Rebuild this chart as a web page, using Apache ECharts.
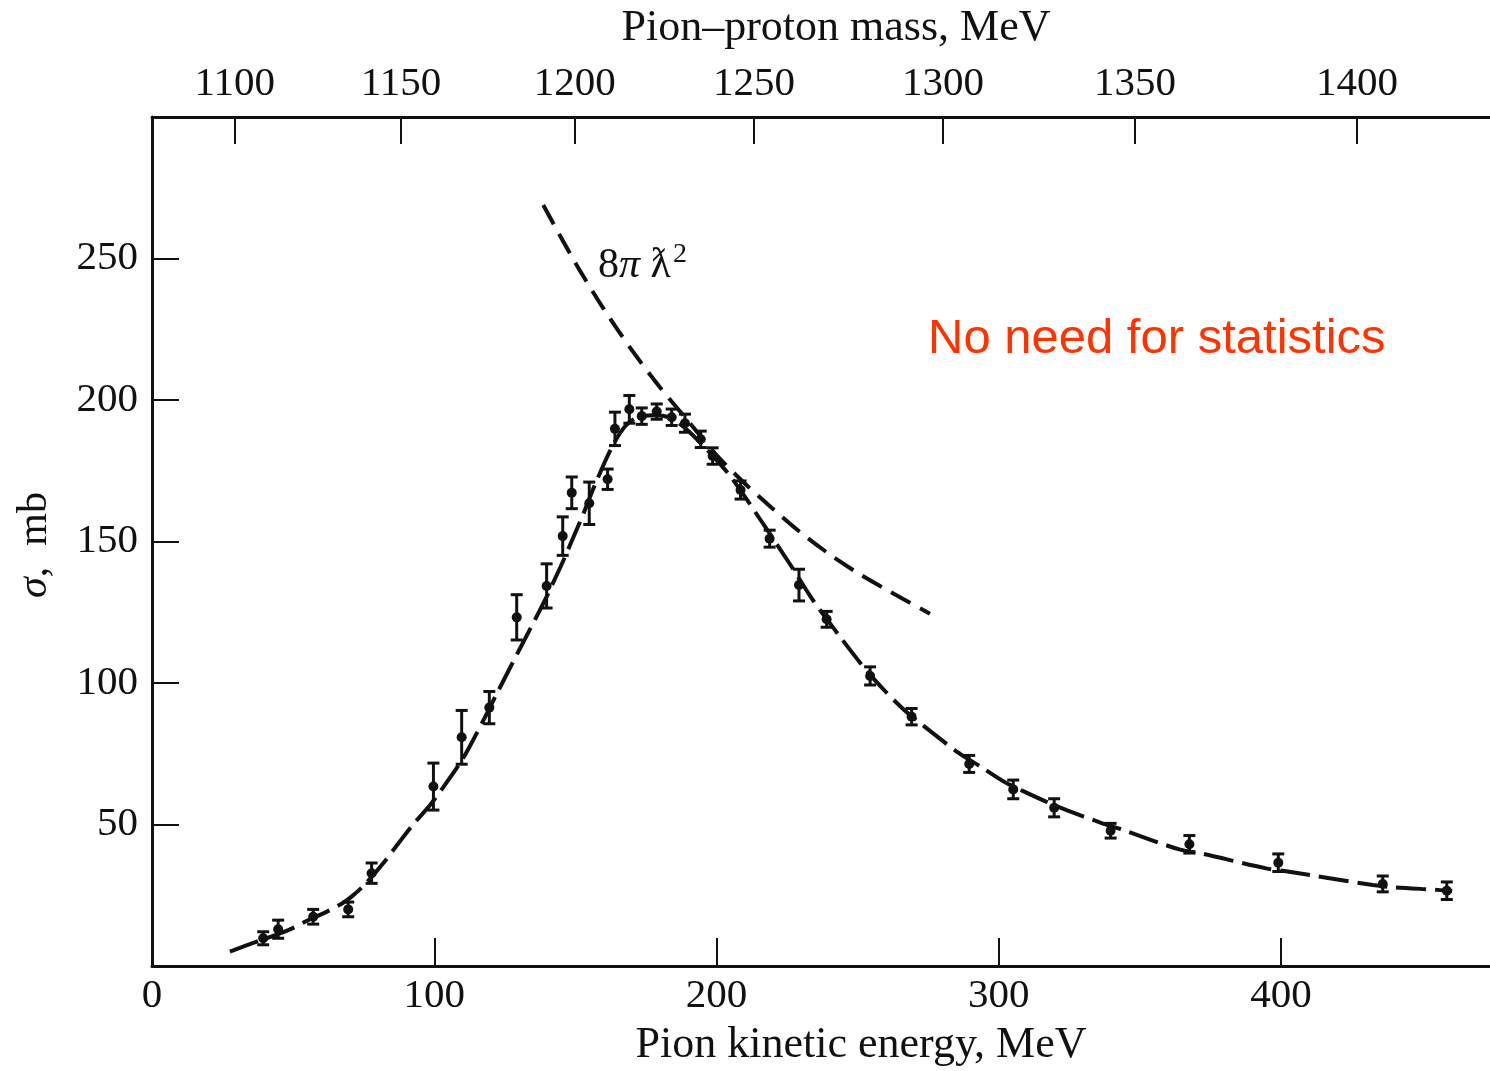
<!DOCTYPE html>
<html>
<head>
<meta charset="utf-8">
<script src="https://cdn.jsdelivr.net/npm/echarts@6/dist/echarts.min.js"></script>
<style>
html,body{margin:0;padding:0;background:#fff;}
#chart{width:1490px;height:1071px;}
</style>
</head>
<body>
<div id="chart"></div>
<script>
// Measured cross-section points (pion kinetic energy in MeV, sigma in mb, error in mb)
const energy = [39.4, 44.7, 57.1, 69.5, 77.8, 99.7, 109.7, 119.5, 129.2, 139.8, 145.5, 148.7, 154.9, 161.4, 164.0, 169.1, 173.5, 178.8, 184.1, 188.8, 194.4, 198.6, 208.5, 218.8, 229.2, 239.0, 254.4, 269.1, 289.5, 305.1, 319.6, 339.6, 367.5, 399.0, 436.0, 458.7];
const sigma = [9.8, 13.0, 17.4, 20.0, 32.8, 63.4, 80.8, 91.3, 123.2, 134.3, 151.9, 167.2, 163.5, 172.0, 189.8, 196.7, 194.3, 195.9, 193.9, 191.8, 186.1, 180.2, 168.2, 151.0, 134.6, 122.5, 102.5, 88.1, 71.4, 62.4, 55.9, 47.8, 43.0, 36.5, 29.0, 26.6];
const sigmaErr = [2.3, 3.2, 2.6, 2.6, 3.6, 8.3, 9.5, 5.7, 8.0, 7.8, 6.8, 5.6, 7.5, 3.6, 5.9, 4.9, 2.9, 2.7, 2.9, 3.2, 2.9, 2.9, 3.2, 3.0, 5.6, 2.8, 3.2, 2.9, 3.0, 3.3, 3.2, 2.6, 3.1, 3.1, 2.8, 3.1];

// Resonance fit curve
const fitEnergy = [27.6, 37.1, 48.3, 56.0, 60.7, 67.2, 70.8, 75.5, 81.9, 91.5, 98.6, 102.7, 109.2, 112.5, 117.5, 122.8, 130.0, 138.8, 144.7, 148.2, 152.9, 157.1, 163.0, 167.7, 172.0, 178.0, 184.0, 189.6, 197.0, 205.0, 215.6, 226.2, 234.0, 242.8, 251.0, 258.2, 265.8, 272.9, 285.9, 293.6, 301.9, 309.0, 316.7, 324.0, 336.2, 343.3, 363.9, 371.6, 394.7, 402.9, 432.5, 440.1, 455.5, 460.6];
const fitSigma = [5.1, 8.6, 12.7, 16.5, 18.6, 22.0, 24.6, 28.9, 36.3, 48.8, 57.0, 62.5, 71.8, 77.5, 87.0, 97.5, 111.5, 128.5, 141.0, 149.0, 160.0, 170.5, 183.5, 190.8, 193.8, 194.6, 193.5, 189.4, 182.0, 172.9, 157.6, 141.7, 129.5, 117.6, 107.0, 98.7, 91.1, 85.2, 75.2, 70.4, 65.1, 61.6, 58.1, 55.1, 50.6, 48.3, 41.2, 39.8, 34.5, 33.3, 28.6, 27.8, 26.9, 26.5];

// Unitarity limit 8πƛ² curve
const limitEnergy = [138.6, 150.0, 160.0, 170.0, 180.0, 190.0, 200.0, 210.0, 220.0, 230.0, 240.0, 250.0, 260.0, 275.6];
const limitSigma = [268.9, 248.4, 232.2, 217.6, 204.4, 192.5, 180.5, 170.5, 161.5, 153.0, 145.5, 138.9, 133.1, 124.5];

// Axis ticks
const energyTicks = [100, 200, 300, 400];
const energyLabels = [0, 100, 200, 300, 400];
const sigmaTicks = [50, 100, 150, 200, 250];
const massTickEnergy = [29.3, 88.2, 149.8, 213.3, 280.2, 348.2, 426.9];
const massTickLabels = ['1100', '1150', '1200', '1250', '1300', '1350', '1400'];

const INK = '#111';
const SERIF = '"Liberation Serif", "DejaVu Serif", serif';

const chart = echarts.init(document.getElementById('chart'), null, {renderer: 'canvas'});

const pointData = energy.map((e, i) => [e, sigma[i], sigmaErr[i]]);
const fitData = fitEnergy.map((e, i) => [e, fitSigma[i]]);
const limitData = limitEnergy.map((e, i) => [e, limitSigma[i]]);

function massLabel(v) {
  let best = 0, bd = Infinity;
  massTickEnergy.forEach((t, i) => { const d = Math.abs(t - v); if (d < bd) { bd = d; best = i; } });
  return massTickLabels[best];
}

const axisLabelStyle = {color: INK, fontFamily: SERIF, fontSize: 41};

const option = {
  animation: false,
  backgroundColor: '#fff',
  grid: {left: 152, top: 117, right: 0, bottom: 105, containLabel: false},
  xAxis: [
    {
      type: 'value', position: 'bottom', min: 0, max: 474,
      axisLine: {show: true, onZero: false, lineStyle: {color: INK, width: 3}},
      axisTick: {show: true, inside: true, length: 28, customValues: energyTicks, lineStyle: {color: INK, width: 2}},
      axisLabel: Object.assign({customValues: energyLabels, margin: 10, showMinLabel: true}, axisLabelStyle),
      splitLine: {show: false}
    },
    {
      type: 'value', position: 'top', min: 0, max: 474,
      axisLine: {show: true, onZero: false, lineStyle: {color: INK, width: 3}},
      axisTick: {show: true, inside: true, length: 27, customValues: massTickEnergy, lineStyle: {color: INK, width: 2}},
      axisLabel: Object.assign({customValues: massTickEnergy, margin: 12, formatter: massLabel}, axisLabelStyle),
      splitLine: {show: false}
    }
  ],
  yAxis: {
    type: 'value', min: 0, max: 300, interval: 50,
    axisLine: {show: true, onZero: false, lineStyle: {color: INK, width: 3}},
    axisTick: {show: true, inside: true, length: 27, customValues: sigmaTicks, lineStyle: {color: INK, width: 2}},
    axisLabel: Object.assign({customValues: sigmaTicks, margin: 14}, axisLabelStyle),
    splitLine: {show: false}
  },
  series: [
    {
      type: 'line', xAxisIndex: 0, yAxisIndex: 0, data: fitData,
      smooth: 0.3, showSymbol: false, silent: true,
      lineStyle: {color: INK, width: 4, type: [30, 9]}
    },
    {
      type: 'line', xAxisIndex: 0, yAxisIndex: 0, data: limitData,
      smooth: 0.3, showSymbol: false, silent: true,
      lineStyle: {color: INK, width: 4, type: [22, 11]}
    },
    {
      type: 'custom', xAxisIndex: 0, yAxisIndex: 0, data: pointData,
      encode: {x: 0, y: 1},
      renderItem: function (params, api) {
        const x = api.value(0), y = api.value(1), e = api.value(2);
        const t = api.coord([x, y + e]);
        const b = api.coord([x, y - e]);
        const c = api.coord([x, y]);
        const w = 6;
        const st = {stroke: INK, lineWidth: 3};
        return {
          type: 'group',
          children: [
            {type: 'line', shape: {x1: t[0], y1: t[1], x2: b[0], y2: b[1]}, style: st},
            {type: 'line', shape: {x1: t[0] - w, y1: t[1], x2: t[0] + w, y2: t[1]}, style: st},
            {type: 'line', shape: {x1: b[0] - w, y1: b[1], x2: b[0] + w, y2: b[1]}, style: st},
            {type: 'circle', shape: {cx: c[0], cy: c[1], r: 5}, style: {fill: INK}}
          ]
        };
      }
    }
  ],
  graphic: [
    {
      type: 'text', x: 836, y: 28,
      style: {text: 'Pion–proton mass, MeV', fill: INK, font: '44px ' + SERIF, textAlign: 'center', textVerticalAlign: 'middle'}
    },
    {
      type: 'text', x: 861, y: 1045,
      style: {text: 'Pion kinetic energy, MeV', fill: INK, font: '44px ' + SERIF, textAlign: 'center', textVerticalAlign: 'middle'}
    },
    {
      type: 'text', x: 35, y: 545, rotation: Math.PI / 2,
      style: {
        text: '{i|σ}{n|,  mb}', textAlign: 'center', textVerticalAlign: 'middle',
        rich: {
          i: {fontFamily: SERIF, fontSize: 42, fontStyle: 'italic', fill: INK, color: INK},
          n: {fontFamily: SERIF, fontSize: 42, fill: INK, color: INK}
        }
      }
    },
    {
      type: 'text', x: 598, y: 266,
      style: {
        text: '{n|8}{i|π}{n| ƛ}{s|2}', textAlign: 'left', textVerticalAlign: 'middle',
        rich: {
          n: {fontFamily: SERIF, fontSize: 42, fill: INK, color: INK},
          i: {fontFamily: SERIF, fontSize: 42, fontStyle: 'italic', fill: INK, color: INK},
          s: {fontFamily: SERIF, fontSize: 28, fill: INK, color: INK, verticalAlign: 'top', padding: [0, 0, 22, 2]}
        }
      }
    },
    {
      type: 'text', x: 928, y: 339,
      style: {text: 'No need for statistics', fill: '#FF3300', font: '49px "Liberation Sans", Arial, sans-serif', textAlign: 'left', textVerticalAlign: 'middle'}
    }
  ]
};

chart.setOption(option);
</script>
</body>
</html>
